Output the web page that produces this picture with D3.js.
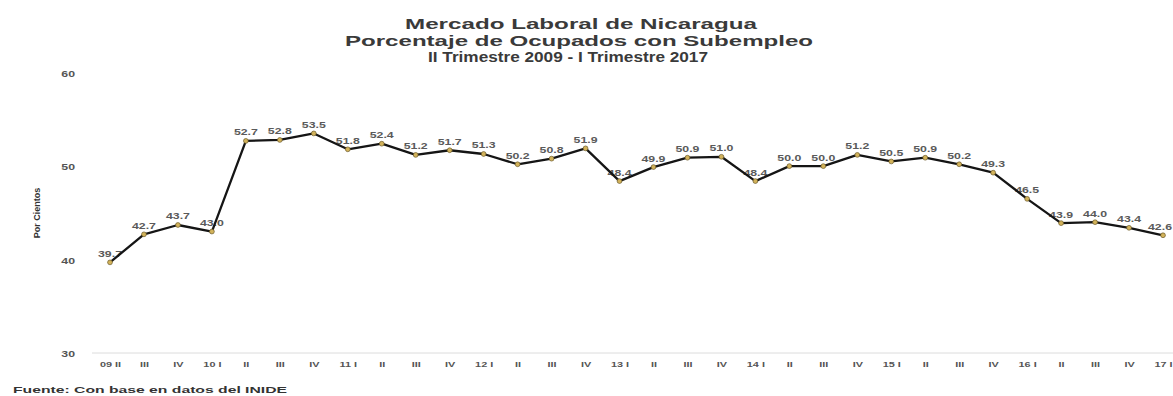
<!DOCTYPE html>
<html>
<head>
<meta charset="utf-8">
<script src="https://cdn.jsdelivr.net/npm/d3@7"></script>
<style>
  html, body { margin: 0; padding: 0; background: #fff; }
  svg { display: block; }
  text { font-family: "Liberation Sans", Arial, sans-serif; font-weight: bold; }
</style>
</head>
<body>
<svg id="chart" width="1173" height="396"></svg>
<script>
// Quarters from 2009 II to 2017 I
const quarters = ["09 II","III","IV","10 I","II","III","IV","11 I","II","III","IV",
  "12 I","II","III","IV","13 I","II","III","IV","14 I","II","III","IV",
  "15 I","II","III","IV","16 I","II","III","IV","17 I"];

// Share of employed people in underemployment (%)
const subempleo = [39.7,42.7,43.7,43.0,52.7,52.8,53.5,51.8,52.4,51.2,51.7,51.3,
  50.2,50.8,51.9,48.4,49.9,50.9,51.0,48.4,50.0,50.0,51.2,50.5,50.9,50.2,
  49.3,46.5,43.9,44.0,43.4,42.6];

const yTicks = [30, 40, 50, 60];

const titleLines = ["Mercado Laboral de Nicaragua",
  "Porcentaje de Ocupados con Subempleo",
  "II Trimestre 2009  - I Trimestre 2017"];

const svg = d3.select("#chart");
const W = 1173, H = 396;
const stretch = 1.45;   // wide lettering used throughout the chart

const idx = d3.range(quarters.length);
const x = d3.scalePoint().domain(idx).range([110, 1163]);
const y = d3.scaleLinear().domain([30, 60]).range([353, 72.7]);

// Horizontally widened text placed at (px, py)
function wideText(g, px, py, str, size, anchor, color) {
  return g.append("text")
    .attr("transform", `translate(${px},${py}) scale(${stretch},1)`)
    .attr("text-anchor", anchor)
    .attr("font-size", size)
    .attr("fill", color)
    .text(str);
}

// Title block
const titleX = [[405, 352], [345, 468], [428, 280]];
const titleY = [29, 45.5, 61.5];
titleLines.forEach((t, i) => {
  svg.append("text")
    .attr("x", titleX[i][0]).attr("y", titleY[i])
    .attr("textLength", titleX[i][1])
    .attr("lengthAdjust", "spacingAndGlyphs")
    .attr("font-size", 15)
    .attr("fill", "#3a3a3a")
    .text(t);
});

// Category axis baseline
svg.append("line")
  .attr("x1", 92).attr("x2", W)
  .attr("y1", y(30)).attr("y2", y(30))
  .attr("stroke", "#dcdcdc").attr("stroke-width", 1);

// Value axis labels
const yAxis = d3.axisLeft(y).tickValues(yTicks).tickSize(0).tickPadding(0);
const gy = svg.append("g").attr("transform", "translate(75,0)").call(yAxis);
gy.select(".domain").remove();
gy.selectAll(".tick text").remove();
gy.selectAll(".tick").each(function(d) {
  wideText(d3.select(this), 0, 3.5, d, 8.5, "end", "#555");
});

// Category labels
const xAxis = d3.axisBottom(x).tickSize(0).tickFormat(i => quarters[i]);
const gx = svg.append("g").attr("transform", `translate(0,${y(30)})`).call(xAxis);
gx.select(".domain").remove();
gx.selectAll(".tick text").remove();
gx.selectAll(".tick").each(function(i) {
  wideText(d3.select(this), 0, 13.5, quarters[i], 7.5, "middle", "#555");
});

// Value axis title
svg.append("text")
  .attr("transform", "translate(40,213) rotate(-90)")
  .attr("text-anchor", "middle")
  .attr("font-size", 9)
  .attr("font-weight", "normal")
  .attr("font-family", "'Liberation Sans Narrow', 'DejaVu Sans Condensed', sans-serif")
  .attr("fill", "#333")
  .text("Por Cientos");

// Data labels (drawn beneath the line); the last one is kept inside the frame
const gl = svg.append("g");
idx.forEach(i => {
  const last = i === idx.length - 1;
  wideText(gl, last ? W - 1 : x(i), y(subempleo[i]) - 5.5,
    subempleo[i].toFixed(1), 8.5, last ? "end" : "middle", "#5a5a5a");
});

// Series line
const line = d3.line().x(i => x(i)).y(i => y(subempleo[i]));
svg.append("path")
  .datum(idx)
  .attr("d", line)
  .attr("fill", "none")
  .attr("stroke", "#151515")
  .attr("stroke-width", 2.3)
  .attr("stroke-linejoin", "round");

// Point markers
svg.append("g").selectAll("circle")
  .data(idx)
  .join("circle")
  .attr("cx", i => x(i))
  .attr("cy", i => y(subempleo[i]))
  .attr("r", 2.4)
  .attr("fill", "#d2b25a")
  .attr("stroke", "#6b5a2a")
  .attr("stroke-width", 0.7);

// Source note
svg.append("text")
  .attr("x", 13).attr("y", 393)
  .attr("textLength", 274)
  .attr("lengthAdjust", "spacingAndGlyphs")
  .attr("font-size", 9.5)
  .attr("fill", "#333")
  .text("Fuente: Con base en datos del INIDE");
</script>
</body>
</html>
